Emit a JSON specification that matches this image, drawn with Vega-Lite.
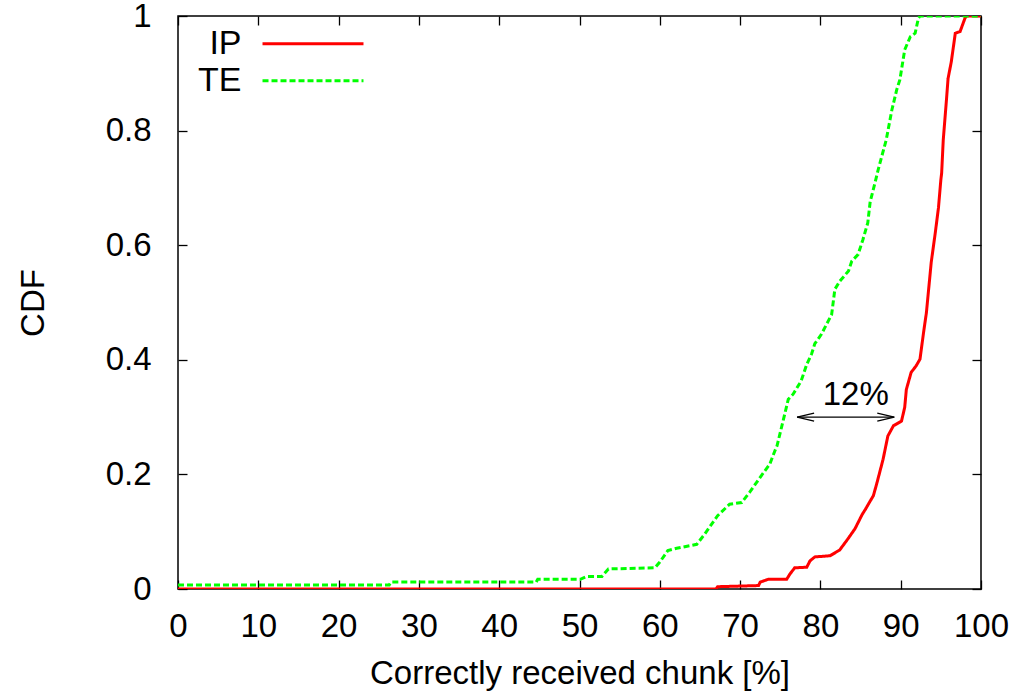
{
  "$schema": "https://vega.github.io/schema/vega-lite/v6.json",
  "width": 803,
  "height": 573,
  "autosize": {"type": "none"},
  "padding": {"left": 178, "top": 16, "right": 50, "bottom": 106},
  "background": "white",
  "config": {
    "view": {"stroke": "black", "strokeWidth": 1.5},
    "font": "Liberation Sans",
    "axis": {
      "domain": false, "grid": false,
      "tickColor": "black", "tickSize": -9, "tickWidth": 1.3,
      "labelFlush": false, "labelOverlap": false, "labelBound": false,
      "labelFont": "Liberation Sans", "labelFontSize": 33, "labelColor": "black",
      "titleFont": "Liberation Sans", "titleFontSize": 33, "titleFontWeight": "normal", "titleColor": "black"
    },
    "legend": {
      "orient": "none", "legendX": 116.5, "legendY": 9.2,
      "symbolType": "M-3,0H3", "symbolSize": 1133, "symbolStrokeWidth": 3,
      "rowPadding": 1, "padding": 0,
      "labelAlign": "right", "labelBaseline": "middle", "labelOffset": -90, "labelFontSize": 34,
      "labelFont": "Liberation Sans", "labelColor": "black", "labelLimit": 0
    }
  },
  "datasets": {
    "curves": [
      {"series": "IP", "pct": 0, "cdf": 0},
      {"series": "IP", "pct": 67.0, "cdf": 0},
      {"series": "IP", "pct": 67.2, "cdf": 0.004},
      {"series": "IP", "pct": 72.3, "cdf": 0.006},
      {"series": "IP", "pct": 72.5, "cdf": 0.012},
      {"series": "IP", "pct": 73.5, "cdf": 0.017},
      {"series": "IP", "pct": 75.8, "cdf": 0.017},
      {"series": "IP", "pct": 76.2, "cdf": 0.026},
      {"series": "IP", "pct": 76.8, "cdf": 0.037},
      {"series": "IP", "pct": 78.3, "cdf": 0.038},
      {"series": "IP", "pct": 78.7, "cdf": 0.049},
      {"series": "IP", "pct": 79.3, "cdf": 0.056},
      {"series": "IP", "pct": 81.2, "cdf": 0.058},
      {"series": "IP", "pct": 82.4, "cdf": 0.068},
      {"series": "IP", "pct": 83.4, "cdf": 0.087},
      {"series": "IP", "pct": 84.3, "cdf": 0.105},
      {"series": "IP", "pct": 85.2, "cdf": 0.130},
      {"series": "IP", "pct": 85.6, "cdf": 0.139},
      {"series": "IP", "pct": 86.6, "cdf": 0.163},
      {"series": "IP", "pct": 87.0, "cdf": 0.183},
      {"series": "IP", "pct": 87.8, "cdf": 0.226},
      {"series": "IP", "pct": 88.4, "cdf": 0.267},
      {"series": "IP", "pct": 89.1, "cdf": 0.285},
      {"series": "IP", "pct": 90.1, "cdf": 0.293},
      {"series": "IP", "pct": 90.5, "cdf": 0.317},
      {"series": "IP", "pct": 90.7, "cdf": 0.348},
      {"series": "IP", "pct": 91.3, "cdf": 0.378},
      {"series": "IP", "pct": 91.9, "cdf": 0.389},
      {"series": "IP", "pct": 92.4, "cdf": 0.401},
      {"series": "IP", "pct": 92.9, "cdf": 0.453},
      {"series": "IP", "pct": 93.2, "cdf": 0.482},
      {"series": "IP", "pct": 93.8, "cdf": 0.570},
      {"series": "IP", "pct": 94.3, "cdf": 0.621},
      {"series": "IP", "pct": 94.7, "cdf": 0.665},
      {"series": "IP", "pct": 95.0, "cdf": 0.714},
      {"series": "IP", "pct": 95.1, "cdf": 0.726},
      {"series": "IP", "pct": 95.3, "cdf": 0.784},
      {"series": "IP", "pct": 95.7, "cdf": 0.854},
      {"series": "IP", "pct": 95.9, "cdf": 0.891},
      {"series": "IP", "pct": 96.3, "cdf": 0.920},
      {"series": "IP", "pct": 96.8, "cdf": 0.970},
      {"series": "IP", "pct": 97.4, "cdf": 0.973},
      {"series": "IP", "pct": 98.0, "cdf": 0.996},
      {"series": "IP", "pct": 98.2, "cdf": 1.0},
      {"series": "IP", "pct": 100, "cdf": 1.0},
      {"series": "TE", "pct": 0, "cdf": 0.007},
      {"series": "TE", "pct": 26.3, "cdf": 0.007},
      {"series": "TE", "pct": 26.5, "cdf": 0.012},
      {"series": "TE", "pct": 44.6, "cdf": 0.012},
      {"series": "TE", "pct": 44.8, "cdf": 0.017},
      {"series": "TE", "pct": 50.1, "cdf": 0.017},
      {"series": "TE", "pct": 50.9, "cdf": 0.022},
      {"series": "TE", "pct": 52.8, "cdf": 0.022},
      {"series": "TE", "pct": 53.6, "cdf": 0.035},
      {"series": "TE", "pct": 59.4, "cdf": 0.037},
      {"series": "TE", "pct": 60.0, "cdf": 0.047},
      {"series": "TE", "pct": 61.0, "cdf": 0.067},
      {"series": "TE", "pct": 62.1, "cdf": 0.071},
      {"series": "TE", "pct": 64.6, "cdf": 0.078},
      {"series": "TE", "pct": 65.6, "cdf": 0.096},
      {"series": "TE", "pct": 67.2, "cdf": 0.128},
      {"series": "TE", "pct": 68.7, "cdf": 0.148},
      {"series": "TE", "pct": 70.2, "cdf": 0.151},
      {"series": "TE", "pct": 71.2, "cdf": 0.169},
      {"series": "TE", "pct": 72.5, "cdf": 0.195},
      {"series": "TE", "pct": 73.7, "cdf": 0.218},
      {"series": "TE", "pct": 74.3, "cdf": 0.240},
      {"series": "TE", "pct": 74.6, "cdf": 0.250},
      {"series": "TE", "pct": 75.4, "cdf": 0.296},
      {"series": "TE", "pct": 76.0, "cdf": 0.331},
      {"series": "TE", "pct": 76.6, "cdf": 0.340},
      {"series": "TE", "pct": 77.6, "cdf": 0.363},
      {"series": "TE", "pct": 78.3, "cdf": 0.392},
      {"series": "TE", "pct": 78.9, "cdf": 0.410},
      {"series": "TE", "pct": 79.3, "cdf": 0.428},
      {"series": "TE", "pct": 80.1, "cdf": 0.444},
      {"series": "TE", "pct": 81.4, "cdf": 0.479},
      {"series": "TE", "pct": 81.8, "cdf": 0.523},
      {"series": "TE", "pct": 82.4, "cdf": 0.537},
      {"series": "TE", "pct": 83.5, "cdf": 0.555},
      {"series": "TE", "pct": 83.9, "cdf": 0.572},
      {"series": "TE", "pct": 84.7, "cdf": 0.584},
      {"series": "TE", "pct": 85.3, "cdf": 0.610},
      {"series": "TE", "pct": 85.9, "cdf": 0.639},
      {"series": "TE", "pct": 86.2, "cdf": 0.676},
      {"series": "TE", "pct": 86.8, "cdf": 0.709},
      {"series": "TE", "pct": 87.2, "cdf": 0.732},
      {"series": "TE", "pct": 88.2, "cdf": 0.784},
      {"series": "TE", "pct": 88.9, "cdf": 0.836},
      {"series": "TE", "pct": 89.5, "cdf": 0.871},
      {"series": "TE", "pct": 89.9, "cdf": 0.889},
      {"series": "TE", "pct": 90.5, "cdf": 0.941},
      {"series": "TE", "pct": 91.2, "cdf": 0.964},
      {"series": "TE", "pct": 91.8, "cdf": 0.970},
      {"series": "TE", "pct": 92.2, "cdf": 0.996},
      {"series": "TE", "pct": 92.4, "cdf": 1.0},
      {"series": "TE", "pct": 100, "cdf": 1.0}
    ],
    "gap": [
      {"from": 77.1, "to": 89.2, "level": 0.3, "label": "12%", "labelX": 84.4, "labelY": 0.321}
    ]
  },
  "layer": [
    {
      "data": {"name": "curves"},
      "mark": {"type": "line", "strokeWidth": 3, "clip": true},
      "encoding": {
        "x": {
          "field": "pct", "type": "quantitative",
          "scale": {"domain": [0, 100], "nice": false, "zero": false},
          "axis": {"values": [0, 10, 20, 30, 40, 50, 60, 70, 80, 90, 100], "title": "Correctly received chunk [%]", "labelPadding": 30, "titlePadding": 14}
        },
        "y": {
          "field": "cdf", "type": "quantitative",
          "scale": {"domain": [0, 1], "nice": false},
          "axis": {"values": [0, 0.2, 0.4, 0.6, 0.8, 1], "format": "~g", "title": "CDF", "labelPadding": 36, "titlePadding": 55}
        },
        "color": {
          "field": "series", "type": "nominal",
          "scale": {"domain": ["IP", "TE"], "range": ["#ff0000", "#00ff00"]},
          "legend": {"title": null}
        },
        "strokeDash": {
          "field": "series", "type": "nominal",
          "scale": {"domain": ["IP", "TE"], "range": [[1, 0], [6, 3]]},
          "legend": {"title": null}
        }
      }
    },
    {
      "data": {"name": "gap"},
      "mark": {"type": "rule", "color": "black", "strokeWidth": 1.3},
      "encoding": {
        "x": {"field": "from", "type": "quantitative", "axis": {"orient": "top", "labels": false, "title": null, "values": [0, 10, 20, 30, 40, 50, 60, 70, 80, 90, 100]}},
        "x2": {"field": "to"},
        "y": {"field": "level", "type": "quantitative", "axis": {"orient": "right", "labels": false, "title": null, "values": [0, 0.2, 0.4, 0.6, 0.8, 1]}}
      }
    },
    {
      "data": {"name": "gap"},
      "mark": {"type": "point", "shape": "M1,-0.24L0,0L1,0.24", "size": 1156, "filled": false, "color": "black", "strokeWidth": 1.3, "opacity": 1},
      "encoding": {
        "x": {"field": "from", "type": "quantitative", "axis": null},
        "y": {"field": "level", "type": "quantitative", "axis": null}
      }
    },
    {
      "data": {"name": "gap"},
      "mark": {"type": "point", "shape": "M-1,-0.24L0,0L-1,0.24", "size": 1156, "filled": false, "color": "black", "strokeWidth": 1.3, "opacity": 1},
      "encoding": {
        "x": {"field": "to", "type": "quantitative", "axis": null},
        "y": {"field": "level", "type": "quantitative", "axis": null}
      }
    },
    {
      "data": {"name": "gap"},
      "mark": {"type": "text", "fontSize": 33, "font": "Liberation Sans", "align": "center", "baseline": "alphabetic", "color": "black"},
      "encoding": {
        "x": {"field": "labelX", "type": "quantitative", "axis": null},
        "y": {"field": "labelY", "type": "quantitative", "axis": null},
        "text": {"field": "label"}
      }
    }
  ],
  "resolve": {"axis": {"x": "independent", "y": "independent"}}
}
